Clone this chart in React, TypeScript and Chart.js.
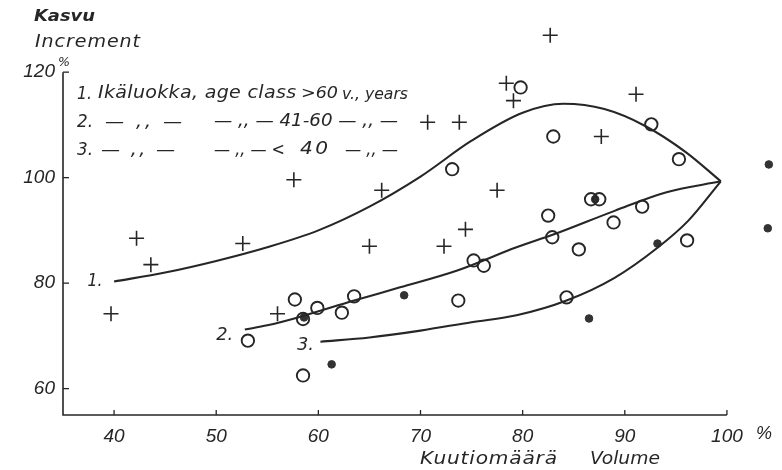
import React, { useEffect, useRef } from 'react';
import { Chart, registerables } from 'chart.js';

Chart.register(...registerables);

const INK = '#262626';
const FONT = '"Liberation Sans", Arial, sans-serif';
const TFONT = '"DejaVu Sans", "Liberation Sans", sans-serif';

const xTicks = [40, 50, 60, 70, 80, 90, 100];
const yTicks = [60, 80, 100, 120];

// 1. age class > 60 years (plus signs)
const ageOver60: number[][] = [
  [39.7, 74.2], [42.2, 88.5], [43.6, 83.5], [52.6, 87.5], [56.0, 74.2], [57.6, 99.6],
  [65.0, 87.0], [66.2, 97.6], [70.7, 110.5], [72.3, 87.0], [73.8, 110.5], [74.4, 90.2],
  [77.5, 97.6], [78.4, 117.9], [79.1, 114.6], [82.7, 127.0], [87.7, 107.8], [91.1, 115.8],
];

// 2. age class 41-60 years (open circles)
const age41to60: number[][] = [
  [53.1, 69.1], [57.7, 76.9], [58.5, 73.2], [58.5, 62.5], [59.9, 75.3], [62.3, 74.4],
  [63.5, 77.5], [73.1, 101.6], [73.7, 76.7], [75.2, 84.3], [76.2, 83.3], [79.8, 117.1],
  [82.5, 92.8], [82.9, 88.7], [83.0, 107.8], [84.3, 77.3], [85.5, 86.4], [86.7, 95.9],
  [87.5, 95.9], [88.9, 91.5], [91.7, 94.5], [92.6, 110.1], [95.3, 103.5], [96.1, 88.1],
];

// 3. age class < 40 years (filled dots)
const ageUnder40: number[][] = [
  [58.6, 73.5], [61.3, 64.6], [68.4, 77.7], [86.5, 73.3], [87.1, 95.9], [93.2, 87.5],
  [104.1, 102.5], [104.0, 90.4],
];

const curve1: number[][] = [
  [40, 80.3], [45, 82.0], [50, 84.2], [55, 86.8], [60, 90.0], [65, 94.5], [70, 100.2],
  [75, 107.0], [80, 112.3], [84, 114.0], [88, 113.0], [92, 109.8], [96, 104.8], [99.4, 99.3],
];
const curve2: number[][] = [
  [52.8, 71.2], [55, 72.0], [58, 73.5], [63.5, 76.7], [68, 79.2], [73.6, 82.4],
  [79.4, 86.8], [83, 89.2], [89, 93.7], [94, 97.2], [99.4, 99.3],
];
const curve3: number[][] = [
  [60.2, 68.9], [65, 69.7], [70, 71.0], [75, 72.6], [79.4, 73.9], [84.3, 76.7],
  [89, 81.0], [93.2, 86.7], [96.2, 91.8], [99.4, 99.3],
];

const toXY = (arr: number[][]) => arr.map(([x, y]) => ({ x, y }));

// Draw text from `left` so that it ends near `right`: a mild horizontal
// stretch first, then letter spacing for whatever width remains.
function fitText(ctx: CanvasRenderingContext2D, text: string, left: number, right: number, cy: number, font: string) {
  ctx.save();
  ctx.font = font;
  ctx.textBaseline = 'middle';
  ctx.textAlign = 'left';
  const c: any = ctx;
  const w = ctx.measureText(text).width;
  const target = right - left;
  const n = Array.from(text).length;
  let sx = target / w;
  if (sx > 1.12) sx = 1.12;
  const rest = target - w * sx;
  if (rest > 0.5 && n > 1 && 'letterSpacing' in c) {
    c.letterSpacing = `${(rest / sx / (n - 1)).toFixed(2)}px`;
  }
  ctx.translate(left, cy);
  ctx.scale(sx, 1);
  ctx.fillText(text, 0, 0);
  ctx.restore();
}

const decorPlugin = {
  id: 'decor',
  beforeDatasetsDraw(chart: any) {
    const { ctx, scales } = chart;
    const x = scales.x;
    const y = scales.y;
    ctx.save();
    ctx.strokeStyle = INK;
    ctx.lineWidth = 1.6;
    const x0 = x.getPixelForValue(35);
    const y0 = y.getPixelForValue(55);
    const xEnd = x.getPixelForValue(100);
    const yTop = y.getPixelForValue(120);
    ctx.beginPath();
    ctx.moveTo(x0, yTop);
    ctx.lineTo(x0, y0);
    ctx.lineTo(xEnd, y0);
    ctx.stroke();
    ctx.lineWidth = 1.3;
    xTicks.forEach((v) => {
      const px = x.getPixelForValue(v);
      ctx.beginPath();
      ctx.moveTo(px, y0);
      ctx.lineTo(px, y0 - 5);
      ctx.stroke();
    });
    yTicks.forEach((v) => {
      const py = y.getPixelForValue(v);
      ctx.beginPath();
      ctx.moveTo(x0, py);
      ctx.lineTo(x0 + 6, py);
      ctx.stroke();
    });
    ctx.restore();
  },
  afterDraw(chart: any) {
    const { ctx, scales } = chart;
    const x = scales.x;
    const y = scales.y;
    ctx.save();
    ctx.fillStyle = INK;
    const t16 = `italic 16px ${TFONT}`;
    const t17 = `italic 17px ${TFONT}`;
    const t18 = `italic 18px ${TFONT}`;
    // axis titles
    fitText(ctx, 'Kasvu', 34, 95, 17, `italic bold 16px ${TFONT}`);
    fitText(ctx, 'Increment', 35, 140, 43, t17);
    fitText(ctx, '%', 58, 70, 63, `italic 13px ${TFONT}`);
    fitText(ctx, 'Kuutiomäärä', 420, 557, 459, t18);
    fitText(ctx, 'Volume', 590, 660, 459, t18);
    fitText(ctx, '%', 756, 772, 434, `italic 18px ${FONT}`);
    // legend
    fitText(ctx, '1.', 77, 92, 94, t18);
    fitText(ctx, 'Ikäluokka, age class', 98, 296, 94, t17);
    fitText(ctx, '>60', 301, 338, 94, t16);
    fitText(ctx, 'v., years', 342, 408, 95, t16);
    fitText(ctx, '2.', 77, 93, 122, t18);
    fitText(ctx, '— ,, —', 105, 182, 123, t17);
    fitText(ctx, '— ,, — 41-60 — ,, —', 214, 398, 122, t17);
    fitText(ctx, '3.', 77, 93, 150, t18);
    fitText(ctx, '— ,, —', 101, 175, 151, t17);
    fitText(ctx, '— ,, — <', 214, 285, 151, t17);
    fitText(ctx, '40', 300, 328, 149, t18);
    fitText(ctx, '— ,, —', 345, 398, 151, t17);
    // curve labels
    const lbl = (t: string, vx: number, vy: number, w: number) => {
      const px = x.getPixelForValue(vx);
      const py = y.getPixelForValue(vy);
      fitText(ctx, t, px, px + w, py, t18);
    };
    lbl('1.', 37.4, 80.3, 15);
    lbl('2.', 50.0, 70.1, 17);
    lbl('3.', 57.9, 68.2, 17);
    ctx.restore();
  },
};

export default function App() {
  const ref = useRef<HTMLCanvasElement | null>(null);
  useEffect(() => {
    if (!ref.current) return;
    const lineDs = (data: number[][]) => ({
      data: toXY(data),
      showLine: true,
      borderColor: INK,
      borderWidth: 2.1,
      pointRadius: 0,
      cubicInterpolationMode: 'monotone' as const,
      fill: false,
      clip: false as any,
    });
    const chart = new Chart(ref.current, {
      type: 'scatter',
      data: {
        datasets: [
          lineDs(curve1),
          lineDs(curve2),
          lineDs(curve3),
          {
            data: toXY(ageOver60),
            pointStyle: 'cross',
            pointRadius: 7.5,
            borderColor: INK,
            borderWidth: 1.6,
            clip: false as any,
          },
          {
            data: toXY(age41to60),
            pointStyle: 'circle',
            pointRadius: 6.2,
            borderColor: INK,
            backgroundColor: 'rgba(0,0,0,0)',
            borderWidth: 1.9,
            clip: false as any,
          },
          {
            data: toXY(ageUnder40),
            pointStyle: 'circle',
            pointRadius: 3.8,
            borderColor: '#333',
            backgroundColor: '#333',
            borderWidth: 1,
            clip: false as any,
          },
        ],
      },
      options: {
        animation: false,
        responsive: false,
        devicePixelRatio: 1,
        layout: { padding: { top: 18, right: 3, left: 0, bottom: 0 } },
        plugins: { legend: { display: false }, tooltip: { enabled: false } },
        events: [],
        scales: {
          x: {
            type: 'linear',
            min: 35,
            max: 104.5,
            grid: { display: false, drawTicks: false },
            border: { display: false },
            afterBuildTicks: (s: any) => {
              s.ticks = xTicks.map((v) => ({ value: v }));
            },
            afterFit: (s: any) => {
              s.height = 55;
            },
            ticks: {
              color: INK,
              font: { family: FONT, size: 19, style: 'italic' },
              padding: 10,
              maxRotation: 0,
              autoSkip: false,
              callback: (v: any) => String(v),
            },
          },
          y: {
            type: 'linear',
            min: 55,
            max: 130,
            grid: { display: false, drawTicks: false },
            border: { display: false },
            afterBuildTicks: (s: any) => {
              s.ticks = yTicks.map((v) => ({ value: v }));
            },
            afterFit: (s: any) => {
              s.width = 63;
            },
            ticks: {
              color: INK,
              font: { family: FONT, size: 19, style: 'italic' },
              padding: 8,
              autoSkip: false,
              callback: (v: any) => String(v),
            },
          },
        },
      },
      plugins: [decorPlugin],
    });
    return () => chart.destroy();
  }, []);
  return (
    <div style={{ position: 'fixed', left: 0, top: 0, width: 782, height: 470, background: '#fff' }}>
      <canvas ref={ref} width={782} height={470} style={{ display: 'block' }} />
    </div>
  );
}
